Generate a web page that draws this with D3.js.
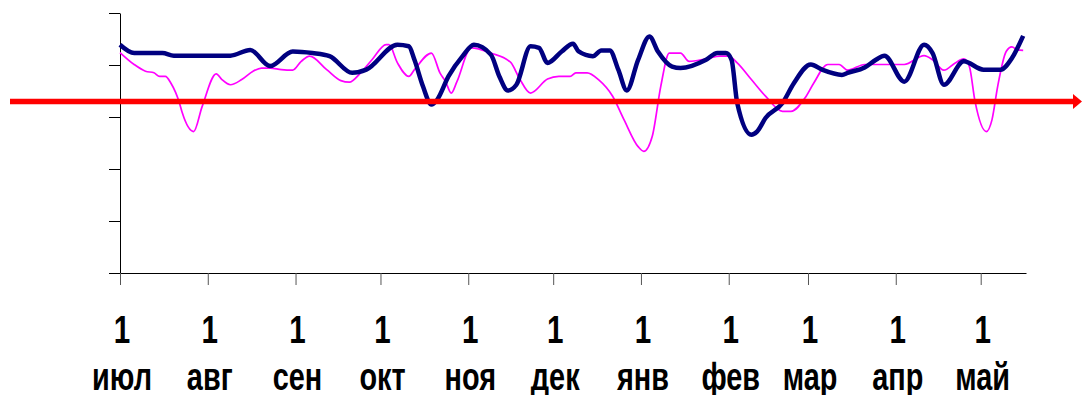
<!DOCTYPE html>
<html lang="ru">
<head>
    <meta charset="UTF-8">
    <title>chart</title>
</head>
<script src="https://cdn.jsdelivr.net/npm/d3@7"></script>
<body>
    <div id="chart-space"></div>

    <script>
        // days counted from 1 July
        var startDate = new Date(Date.UTC(2006, 6, 1));
        var endDay = 320;

        var navyDays = [0, 5, 15, 19, 39, 46, 53, 61, 68, 74, 82, 87, 98, 102, 104, 107, 110, 112, 116, 121,
            125, 131, 134, 137, 140, 145, 148, 151, 156, 160, 162, 167, 170, 173, 176, 179, 183, 187, 190, 195,
            198, 207, 211, 214, 216, 218, 223, 225, 228, 234, 238, 244, 248, 255, 257, 263, 267, 270, 277, 284,
            287, 291, 298, 305, 311, 315, 319];
        var navyValues = [43.9, 42.3, 42.3, 41.8, 41.8, 42.9, 39.8, 42.6, 42.3, 41.7, 38.5, 39.1, 43.9, 43.6, 41.0, 35.9, 32.4, 33.3, 37.8, 41.7,
            43.9, 42.0, 37.8, 35.1, 36.2, 43.6, 43.3, 40.4, 42.6, 44.1, 42.6, 41.7, 42.8, 42.8, 39.1, 35.1, 41.0, 45.5, 42.6, 39.7,
            39.4, 41.0, 42.3, 42.3, 41.0, 32.7, 26.6, 27.2, 29.8, 32.7, 36.5, 40.1, 39.1, 38.1, 38.5, 39.5, 41.0, 41.8, 36.8, 43.9,
            42.3, 36.2, 40.7, 39.1, 39.1, 41.3, 45.6];

        var pinkDays = [0, 5, 9, 12, 14, 16, 18, 21, 22, 26, 29, 34, 36, 39, 43, 47, 50, 53, 57, 61,
            64, 67, 73, 78, 81, 85, 89, 94, 95, 98, 102, 104, 110, 113, 115, 117, 119, 124, 131, 138,
            141, 145, 151, 155, 159, 161, 165, 169, 174, 178, 183, 185, 188, 191, 194, 198, 201, 207, 212, 215,
            218, 223, 228, 234, 237, 242, 245, 250, 254, 257, 263, 277, 284, 287, 291, 295, 298, 300, 302, 306,
            308, 310, 313, 315, 317, 319];
        var pinkValues = [42.4, 40.1, 38.8, 38.5, 37.8, 37.8, 36.5, 32.7, 30.8, 27.2, 32.0, 38.3, 37.2, 36.2, 37.2, 38.8, 39.4, 39.4, 39.1, 39.0,
            40.7, 41.7, 39.1, 37.0, 36.7, 38.5, 41.0, 43.9, 43.9, 40.4, 37.8, 39.1, 42.3, 38.5, 36.8, 34.6, 36.8, 43.3, 42.3, 40.5,
            37.5, 34.6, 37.3, 37.8, 37.8, 38.5, 38.5, 37.2, 34.0, 29.5, 24.3, 23.4, 26.3, 35.9, 42.3, 42.3, 40.7, 41.2, 41.7, 41.7,
            40.4, 37.2, 34.0, 31.1, 31.1, 33.7, 36.5, 40.1, 40.1, 39.0, 40.1, 40.1, 41.8, 41.0, 39.0, 40.4, 41.2, 39.7, 33.0, 27.2,
            29.5, 35.9, 42.6, 43.5, 42.9, 42.8];

        var yTicks = [0, 10, 20, 30, 40, 50];
        var monthLabels = ["июл", "авг", "сен", "окт", "ноя", "дек", "янв", "фев", "мар", "апр", "май"];
        var dayLabel = "1";
        var arrowLevel = 33.0;

        var width = 1082;
        var height = 395;
        var margin = {top: 13, right: 56, bottom: 122, left: 120};
        var chartWidth = width - margin.left - margin.right;
        var chartHeight = height - margin.top - margin.bottom;

        var svg = d3.select("#chart-space")
            .append("svg")
            .attr("width", width)
            .attr("height", height);

        var g = svg.append("g")
            .attr("transform", "translate(" + margin.left + "," + margin.top + ")");

        var xScale = d3.scaleUtc()
            .domain([startDate, d3.utcDay.offset(startDate, endDay)])
            .range([0, chartWidth]);

        var yScale = d3.scaleLinear()
            .domain([0, 50])
            .range([chartHeight, 0]);

        function dayDate(d) { return d3.utcDay.offset(startDate, d); }

        var monthStarts = d3.utcMonth.range(startDate, d3.utcDay.offset(startDate, endDay));

        // y axis, no labels
        var yAxis = g.append("g")
            .call(d3.axisLeft(yScale).tickValues(yTicks).tickSize(11).tickSizeOuter(0).tickFormat(""));

        // x axis with month ticks
        var xAxis = g.append("g")
            .attr("transform", "translate(0," + chartHeight + ")")
            .call(d3.axisBottom(xScale).tickValues(monthStarts).tickSize(12).tickSizeOuter(0).tickFormat(""));
        xAxis.selectAll(".tick line").attr("stroke", "#555");

        g.selectAll(".domain").attr("stroke", "#000");

        // two line tick labels
        var labels = g.selectAll(".mlabel")
            .data(monthStarts)
            .join("g")
            .attr("class", "mlabel")
            .attr("transform", function(d) { return "translate(" + xScale(d) + ",0)"; });

        labels.append("text")
            .attr("transform", "translate(2," + (343 - margin.top) + ") scale(0.76,1)")
            .text(dayLabel);
        labels.append("text")
            .attr("transform", "translate(2," + (390 - margin.top) + ") scale(0.74,1)")
            .text(function(d, i) { return monthLabels[i]; });

        var line = d3.line()
            .x(function(d) { return xScale(dayDate(d[0])); })
            .y(function(d) { return yScale(d[1]); })
            .curve(d3.curveMonotoneX);

        g.append("path")
            .datum(d3.zip(pinkDays, pinkValues))
            .attr("fill", "none")
            .attr("stroke", "#ff00ff")
            .attr("stroke-width", 1.7)
            .attr("d", line);

        g.append("path")
            .datum(d3.zip(navyDays, navyValues))
            .attr("fill", "none")
            .attr("stroke", "#000080")
            .attr("stroke-width", 4.5)
            .attr("stroke-linejoin", "round")
            .attr("d", line);

        // red arrow across the chart
        var ay = margin.top + yScale(arrowLevel);
        svg.append("line")
            .attr("x1", 10)
            .attr("x2", 1074)
            .attr("y1", ay)
            .attr("y2", ay)
            .attr("stroke", "#ff0000")
            .attr("stroke-width", 5.5);
        svg.append("path")
            .attr("d", "M1073," + (ay - 7.5) + "L1082," + ay + "L1073," + (ay + 7.5) + "Z")
            .attr("fill", "#ff0000");
    </script>

    <style>
        body { margin: 0; background: #fff; }
        svg { display: block; }
        .mlabel text {
            font-family: "Liberation Sans", Arial, sans-serif;
            font-weight: bold;
            font-size: 39px;
            text-anchor: middle;
            fill: #000;
        }
    </style>
</body>
</html>
